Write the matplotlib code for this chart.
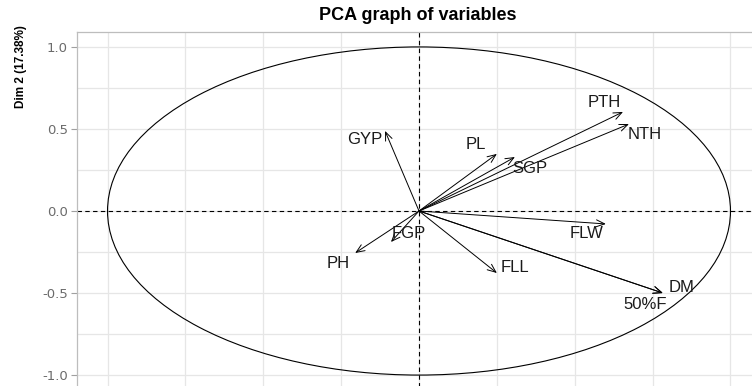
import matplotlib
matplotlib.use("Agg")
import matplotlib.pyplot as plt
from matplotlib.patches import Circle
import numpy as np

# ---- data ----
variables = ["GYP", "PL", "SGP", "PTH", "NTH", "FLW", "DM", "50%F", "FLL", "FGP", "PH"]
dim1 = [-0.109, 0.250, 0.308, 0.655, 0.674, 0.600, 0.783, 0.783, 0.250, -0.090, -0.205]
dim2 = [0.488, 0.348, 0.329, 0.604, 0.530, -0.079, -0.500, -0.500, -0.378, -0.189, -0.256]
y_ticks = [-1.0, -0.5, 0.0, 0.5, 1.0]
y_tick_labels = ["-1.0", "-0.5", "0.0", "0.5", "1.0"]
title = "PCA graph of variables"
y_label = "Dim 2 (17.38%)"

# label offsets (pixels) relative to arrow tips
label_offsets = {
    "GYP": (-20, -9), "PL": (-21, 9), "SGP": (15, -11), "PTH": (-19, 9),
    "NTH": (16, -10), "FLW": (-19, -10), "DM": (19, 6), "50%F": (-18, -11),
    "FLL": (18, 6), "FGP": (18, 9), "PH": (-17, -10),
}

W, H = 752, 386
fig = plt.figure(figsize=(W / 100, H / 100), dpi=100)
fig.patch.set_facecolor("white")
ax = fig.add_axes([77 / W, -4 / H, 684 / W, 358 / H])
ax.set_xlim(-1.098, 1.098)
ax.set_ylim(-1.091, 1.091)

# grid
ax.set_xticks(np.arange(-1.0, 1.01, 0.25), minor=False)
ax.set_yticks(y_ticks)
ax.set_yticks([-0.75, -0.25, 0.25, 0.75], minor=True)
ax.set_yticklabels(y_tick_labels)
ax.grid(True, which="both", color="#e6e6e6", linewidth=0.9)
ax.set_axisbelow(True)
ax.tick_params(axis="x", length=0, labelbottom=False)
ax.tick_params(axis="y", which="major", length=4.5, width=0.8, color="#a0a0a0",
               labelcolor="#6b6b6b", labelsize=9.5, pad=2)
ax.tick_params(axis="y", which="minor", length=0)
for s in ax.spines.values():
    s.set_color("#bdbdbd")
    s.set_linewidth(0.9)

# circle and axes lines
ax.add_patch(Circle((0, 0), 1.0, fill=False, edgecolor="black", linewidth=0.8, zorder=2))
ax.axhline(0, color="black", linestyle=(0, (4, 3)), linewidth=0.8, zorder=2)
ax.axvline(0, color="black", linestyle=(0, (4, 3)), linewidth=0.8, zorder=2)

# arrows and labels
for name, x, y in zip(variables, dim1, dim2):
    ax.annotate("", xy=(x, y), xytext=(0, 0),
                arrowprops=dict(arrowstyle="->,head_length=0.6,head_width=0.25",
                                color="black", lw=0.7, shrinkA=0, shrinkB=0,
                                mutation_scale=10), zorder=3)
    dx, dy = label_offsets[name]
    ax.annotate(name, xy=(x, y), xytext=(dx, dy), textcoords="offset pixels",
                ha="center", va="center", fontsize=12, color="#1a1a1a",
                family=["Liberation Sans", "DejaVu Sans"], zorder=4)

fig.text(418 / W, 1 - 16 / H, title, ha="center", va="center",
         fontsize=13, fontweight="bold", family=["Liberation Sans", "DejaVu Sans"])
fig.text(21 / W, 1 - 67 / H, y_label, ha="center", va="center", rotation=90,
         fontsize=8.5, fontweight="bold", family=["Liberation Sans", "DejaVu Sans"])

fig.savefig("out.png", dpi=100)
